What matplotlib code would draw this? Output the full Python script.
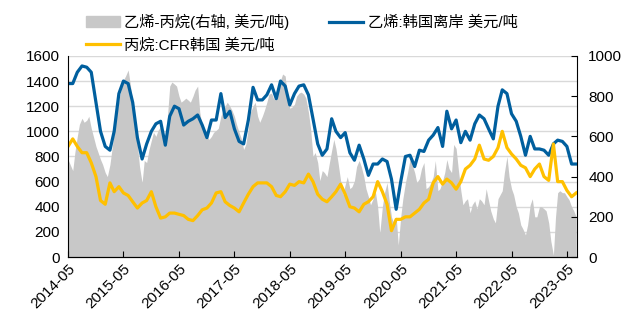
import numpy as np
import pandas as pd
import matplotlib
matplotlib.use("Agg")
import matplotlib.pyplot as plt
import matplotlib.dates as mdates
from matplotlib.patches import Patch
from matplotlib.lines import Line2D

plt.rcParams['font.family'] = ['Liberation Sans', 'Noto Sans CJK SC', 'DejaVu Sans']
plt.rcParams['font.size'] = 10.5

# 乙烯:韩国离岸 (monthly, USD/t), from 2014-05
ethylene = [1380, 1380, 1470, 1520, 1510, 1470, 1230, 1000, 880, 850, 1000, 1300,
            1400, 1380, 1230, 950, 780, 900, 1000, 1060, 1080, 890, 1120, 1200,
            1180, 1050, 1080, 1100, 1130, 1050, 950, 1090, 1090, 1300, 1110, 1160,
            1020, 920, 900, 1090, 1350, 1250, 1250, 1290, 1370, 1260, 1400, 1360,
            1210, 1300, 1360, 1370, 1290, 1100, 900, 810, 860, 1100, 1000, 950,
            990, 830, 770, 890, 780, 650, 740, 740, 780, 760, 620, 380,
            600, 800, 810, 720, 850, 840, 930, 970, 1030, 880, 1160, 1020,
            1090, 910, 1000, 930, 1060, 1130, 1100, 1020, 940, 1200, 1330, 1300,
            1140, 1080, 960, 810, 960, 860, 860, 850, 810, 900, 930, 920,
            880, 740, 740]

# 丙烷:CFR韩国 (monthly, USD/t)
propane = [880, 940, 880, 830, 830, 750, 640, 450, 420, 590, 520, 560,
           510, 490, 440, 390, 430, 450, 520, 400, 310, 320, 350, 350,
           340, 330, 300, 290, 330, 376, 390, 430, 510, 520, 440, 410,
           390, 360, 430, 500, 560, 590, 590, 590, 560, 490, 480, 520,
           580, 570, 600, 590, 660, 600, 500, 460, 440, 480, 520, 580,
           500, 400, 390, 360, 420, 440, 480, 600, 520, 420, 210, 300,
           300, 320, 320, 350, 380, 430, 460, 590, 640, 580, 620, 590,
           540, 600, 700, 730, 780, 890, 780, 770, 800, 870, 1000, 870,
           820, 780, 730, 710, 640, 700, 740, 640, 610, 900, 600, 600,
           530, 480, 510]

# 乙烯-丙烷 spread (semi-monthly, USD/t, right axis)
spread = [485, 460, 430, 520, 600, 660, 690, 670, 680, 700, 640, 600,
          550, 520, 485, 460, 420, 400, 460, 540, 620, 700, 780, 830,
          880, 900, 930, 860, 760, 690, 560, 450, 370, 480, 470, 530,
          580, 620, 600, 630, 650, 600, 600, 700, 850, 870, 860, 850,
          800, 770, 780, 790, 780, 770, 800, 830, 850, 720, 650, 620,
          600, 585, 600, 620, 630, 640, 700, 730, 750, 770, 750, 730,
          700, 660, 620, 590, 535, 560, 640, 720, 750, 770, 700, 670,
          700, 730, 770, 810, 815, 785, 800, 830, 880, 910, 900, 790,
          740, 745, 760, 800, 815, 820, 810, 790, 720, 640, 500, 520,
          470, 380, 430, 420, 400, 460, 530, 585, 540, 470, 380, 310,
          360, 400, 340, 350, 380, 450, 480, 450, 400, 340, 300, 260,
          290, 330, 250, 120, 250, 320, 370, 280, 200, 170, 200, 60,
          200, 290, 370, 420, 485, 460, 420, 370, 390, 440, 470, 340,
          350, 370, 400, 480, 330, 340, 380, 420, 485, 440, 420, 560,
          540, 440, 330, 260, 280, 290, 220, 260, 280, 240, 290, 280,
          260, 340, 280, 230, 190, 170, 290, 310, 330, 420, 500, 400,
          340, 310, 250, 220, 160, 140, 110, 160, 260, 290, 200, 200,
          250, 250, 240, 230, 170, 80, 10, 200, 320, 330, 320, 320,
          300, 285, 250, 230, 200]

dates_m = pd.date_range('2014-05-01', periods=len(ethylene), freq='MS')
dates_s = pd.date_range('2014-05-01', periods=len(spread), freq='SMS')
tick_dates = pd.date_range('2014-05-01', '2023-05-01', freq='12MS')

fig = plt.figure(figsize=(6.3, 3.25), dpi=100)
ax = fig.add_axes([0.108, 0.209, 0.808, 0.619])
ax2 = ax.twinx()

ax2.fill_between(dates_s, 0, spread, color='#C8C8C8', lw=0, zorder=1)
ax2.set_ylim(0, 1000)
ax2.set_yticks(np.arange(0, 1001, 200))

# lines on the left axis, drawn above the spread area
ax.set_zorder(ax2.get_zorder() + 1)
ax.patch.set_visible(False)
ax.plot(dates_m, ethylene, color='#005F9E', lw=2.3)
ax.plot(dates_m, propane, color='#FFC000', lw=2.3)
ax.set_ylim(0, 1600)
ax.set_yticks(np.arange(0, 1601, 200))

# gridlines live on the back axis so they stay behind the area
for v in np.arange(200, 1601, 200):
    ax2.axhline(v / 1.6, color='#D9D9D9', lw=1, zorder=0)

ax.set_xlim(pd.Timestamp('2014-05-01'), pd.Timestamp('2023-07-07'))
ax.set_xticks(tick_dates)
ax.xaxis.set_major_formatter(mdates.DateFormatter('%Y-%m'))
for lab in ax.get_xticklabels():
    lab.set_rotation(45)
    lab.set_ha('right')
    lab.set_rotation_mode('anchor')

for a in (ax, ax2):
    a.spines['top'].set_visible(False)
    a.tick_params(direction='in', length=4, labelsize=11, colors='black')
ax2.spines['left'].set_visible(False)
ax.spines['right'].set_visible(False)
ax.tick_params(axis='y', length=0, pad=6)
ax2.tick_params(axis='y', pad=8)

handles = [Patch(color='#C8C8C8'),
           Line2D([], [], color='#FFC000', lw=2.3),
           Line2D([], [], color='#005F9E', lw=2.3)]
labels = ['乙烯-丙烷(右轴, 美元/吨)', '丙烷:CFR韩国 美元/吨', '乙烯:韩国离岸 美元/吨']
fig.legend(handles, labels, loc='upper left', bbox_to_anchor=(0.115, 1.0),
           ncol=2, frameon=False, handlelength=2.2,
           columnspacing=2.6, handletextpad=0.3, labelspacing=0.55,
           prop={'family': ['Liberation Sans', 'Noto Sans CJK SC'], 'size': 11})

fig.savefig('out.png', dpi=100)
